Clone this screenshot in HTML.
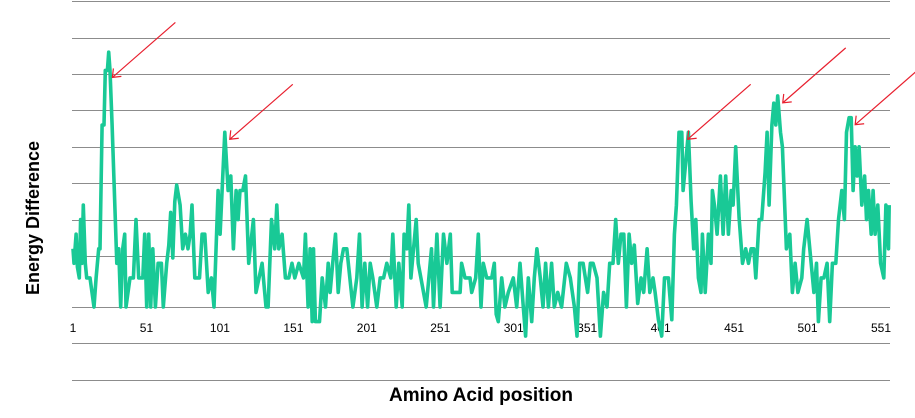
<!DOCTYPE html>
<html><head><meta charset="utf-8"><style>
html,body{margin:0;padding:0;background:#fff;}
svg{display:block;font-family:"Liberation Sans",Arial,sans-serif;}
</style></head><body>
<svg id="chart" width="915" height="418" viewBox="0 0 915 418" xmlns="http://www.w3.org/2000/svg">
<g id="grid"></g>
<g id="xticks"></g>
<path id="series" fill="none" stroke="#19c996" stroke-width="3.6" stroke-linejoin="round"/>
<g id="arrows" stroke="#e8202f" stroke-width="1.2" fill="none"></g>
<text x="0" y="0" transform="translate(39,218) rotate(-90)" text-anchor="middle" font-size="18" font-weight="bold">Energy Difference</text>
<text x="481" y="401" text-anchor="middle" font-size="19" font-weight="bold">Amino Acid position</text>
</svg>
<script>
const gridValues=[8.4,7.4,6.4,5.4,4.4,3.4,2.4,1.4,0,-1,-2];
const tickLabels=[1,51,101,151,201,251,301,351,401,451,501,551];
const positions=[1,1.7,3.1,4,5.3,6.2,7.1,8,9.4,10.3,12.6,15.3,16.7,18.5,19.4,20.8,22.1,23,24.4,25.3,26.2,27.6,30.8,32.1,33.5,34.8,36.2,37.1,39.8,42.1,43.9,45.7,48.5,49.8,51.2,52.5,53.9,55.3,57.1,58.9,61.2,62.5,64.8,66.2,67.5,68.9,70.3,71.6,73.9,75.7,77.5,79.3,80.7,82,83.9,87.1,88.9,90.7,93,95.2,97,99.8,101.1,102.5,104.3,106.6,108.4,110.2,112,113.4,114.7,116.6,118.4,120.6,123.8,125.6,129.7,132.4,133.8,136.1,138.3,139.7,141.1,143.3,145.6,147.9,150.1,152,154.7,157.9,159.2,161,162.4,163.8,164.7,166,168.8,170.6,172.9,174.7,176,177.8,179.7,181.5,183.3,185.1,187.4,191.5,194.2,196,197.8,199.6,201.5,203.3,205.1,207.8,210.1,212.4,214.6,217.3,218.7,221,222.8,225.1,226.4,228.2,229.6,231,234.6,236,237.8,241.4,245,246.4,248.7,250.9,253.2,255.5,257.8,259.1,264.5,
265.5,267.8,271.2,272.4,275.1,276.9,278.7,280.3,282.6,286,287.8,289.1,290.5,292.8,295,297.3,300.7,303,305.3,307.5,309.1,310.9,313.2,315,316.8,319.1,320.9,322.7,324.6,326.8,328.6,330.9,333.6,336.8,339.5,342.3,344.1,345.9,348.2,351.3,353.2,355,357.7,360,362.2,364.5,366.3,368.6,370.4,372.2,374,375.9,377.7,379.5,381.3,383.1,385.4,387.7,389.5,391.8,393.6,395.8,397.2,399.5,401.7,403.6,406.3,408.6,410.4,411.7,413.5,415.4,416.3,418.1,419.9,421.7,423.5,424.9,426.7,428.5,429.4,431.3,433.5,435.3,436.2,437.6,439.4,441.7,443.5,445.3,447.1,449,450.3,452.1,454.4,456.7,458.9,460.8,462.6,464.4,465.8,468,469.8,472.1,473.5,474.8,476.7,478,479.4,480.7,482.6,483.9,486.6,488.9,490.7,492.5,494.4,497.1,498.4,500.7,502.5,505.3,507.1,508.4,510.2,512.1,514.3,516.1,517.9,520.2,522.1,524.3,526.1,527.5,529.3,530.7,532,533.4,534.8,536.1,537.9,539.8,541.1,542.5,544.3,545.6,547,548.8,550.7,552.9,554.3,556.1,556.6];
const values=[1.6,1.2,2,1.1,0.8,2.4,1.2,2.8,1.2,0.8,0.8,0,0.8,1.6,1.6,5,5,6.5,6.5,7,6.5,5,1.2,1.6,0,1.6,2,0,0.8,0.8,2.4,0.8,0.8,2,0,2,0,1.6,0,1.2,1.2,0,1.2,1.7,2.6,1.35,2.9,3.35,2.8,1.6,2,1.6,2,2.8,0.8,0.8,2,2,0.4,0.8,0,3.2,2,3.2,4.8,3.2,3.6,1.6,3.2,2.4,3.2,3.2,3.6,1.2,2.4,0.4,1.2,0,0,2.4,1.6,2.8,1.6,2,0.8,0.8,1.2,0.8,1.2,0.8,2,0,1.6,-0.4,1.6,-0.4,-0.4,0.8,0,1.2,0.4,1.2,2,0.4,1.2,1.6,1.6,0,0.8,2,0,1.2,0,1.2,0.8,0,0.8,0.8,1.2,0.8,2,0,1.2,0,2,1.6,2.8,0.8,2.4,1.2,0.8,0,1.6,0,2,0,2,1.2,2,0.4,0.4,
1.2,0.8,0.8,0.4,0.8,2,0,1.2,0.8,0.8,1.2,-0.2,-0.4,0.8,0,0.4,0.8,0,1.2,0,-0.8,0.8,-0.4,0.8,1.6,0.8,0,1.2,0,1.2,0,0.4,0,1.2,0.8,0,-0.8,1.2,1.2,0.4,1.2,1.2,0.8,-0.8,0.4,0,1.2,1.2,2.4,1.2,2,2,0,2,1.2,1.7,0.1,0.8,0.4,1.6,0.4,0.8,0.4,-0.35,-0.8,0.8,0.8,-0.35,2,2.8,4.8,4.8,3.2,4,4.8,2.9,1.6,2.4,0.8,0.4,2,0.4,2,1.2,3.2,2.8,2,3.6,2,3.6,2,3.2,2.8,4.4,2.45,1.2,1.6,1.2,1.6,1.6,0.8,2.4,2.4,3.7,4.8,2.8,5,5.6,5,5.8,4.8,4.4,1.6,2,0.4,1.2,0.4,0.8,1.6,2.4,1.6,0.4,1.2,-0.4,0.8,0.8,1.2,-0.4,1.2,1.2,2.4,3.2,2.4,4.8,5.2,5.2,3.2,4.4,3.6,4.4,2.8,3.6,2.4,3.2,2,3.2,2,2.8,1.2,0.8,2.8,1.6,2.8];
const xScale=p=>73+(p-1)*1.4691;
const yScale=v=>307-v*36.4;
const NS='http://www.w3.org/2000/svg';
const grid=document.getElementById('grid');
gridValues.forEach(v=>{
  const l=document.createElementNS(NS,'line');
  
  
  const y=Math.round(yScale(v))+0.5;
  l.setAttribute('x1',72);l.setAttribute('x2',890);
  l.setAttribute('y1',y);l.setAttribute('y2',y);
  l.setAttribute('stroke','#8c8c8c');l.setAttribute('stroke-width','1');
  grid.appendChild(l);
});
const xt=document.getElementById('xticks');
tickLabels.forEach(t=>{
  const tx=document.createElementNS(NS,'text');
  
  
  tx.setAttribute('x',xScale(t));tx.setAttribute('y',332);
  tx.setAttribute('text-anchor','middle');tx.setAttribute('font-size','12');
  tx.textContent=t;xt.appendChild(tx);
});
let d='';
positions.forEach((p,i)=>{d+=(i?'L':'M')+xScale(p).toFixed(1)+','+yScale(values[i]).toFixed(1);});
document.getElementById('series').setAttribute('d',d);
const arrowPeaks=[[24.4,6.5],[104.3,4.8],[416,4.8],[480.7,5.8],[530,5.2]];
const ag=document.getElementById('arrows');
arrowPeaks.forEach(a=>{
  const tx=xScale(a[0])+5,ty=yScale(a[1])+7;
  const g=document.createElementNS(NS,'path');
  
  
  const sx=tx+63,sy=ty-55;
  g.setAttribute('d',`M${sx},${sy}L${tx},${ty}M${tx+9},${ty-1}L${tx},${ty}L${tx+1},${ty-9}`);
  ag.appendChild(g);
});
</script>
</body></html>
